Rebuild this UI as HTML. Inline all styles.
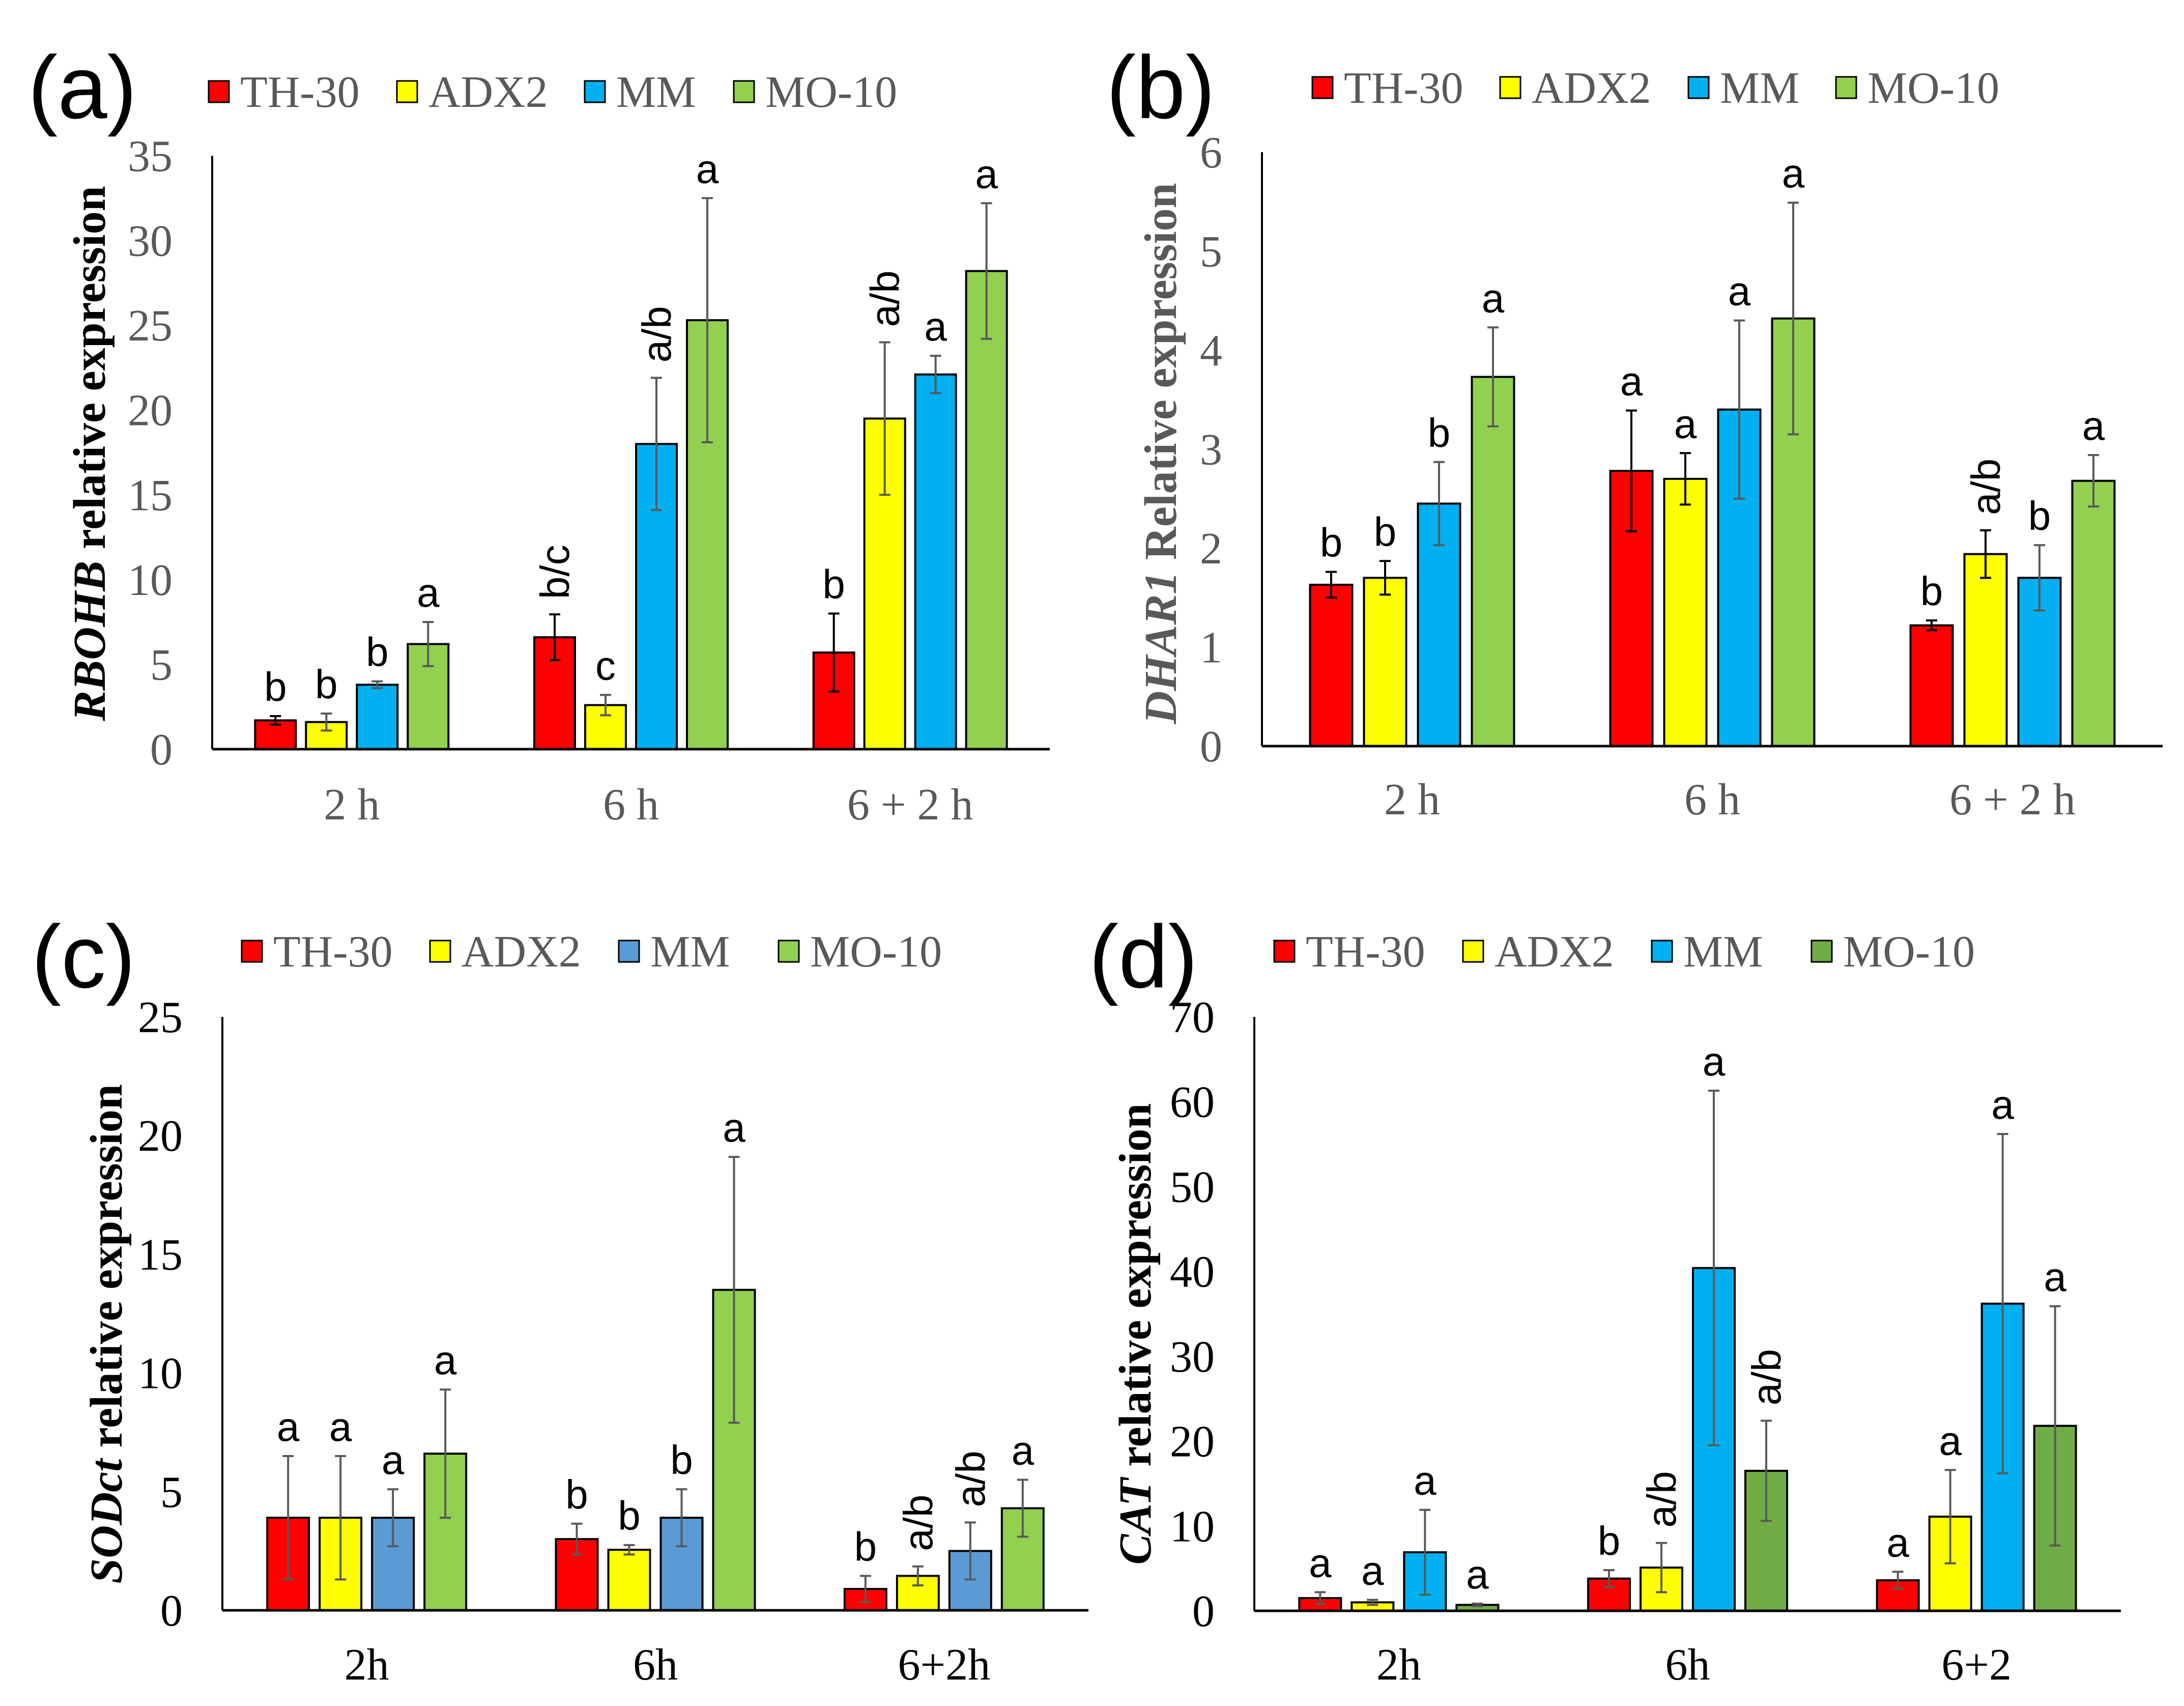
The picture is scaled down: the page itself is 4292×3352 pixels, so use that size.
<!DOCTYPE html>
<html><head><meta charset="utf-8"><style>
html,body{margin:0;padding:0;background:#fff;}
svg{display:block;}
</style></head><body>
<svg id="fig" width="4292" height="3352" viewBox="0 0 4292 3352" xmlns="http://www.w3.org/2000/svg"></svg>
<script>
// ---- data arrays ----
const aCats = ["2 h","6 h","6 + 2 h"];
const aTH = [1.7,6.6,5.7], aTHe=[0.25,1.35,2.3];
const aADX = [1.6,2.6,19.5], aADXe=[0.5,0.6,4.5];
const aMM = [3.8,18.0,22.1], aMMe=[0.2,3.9,1.1];
const aMO = [6.2,25.3,28.2], aMOe=[1.3,7.2,4.0];
const aLetters = [["b","b","b","a"],["b/c","c","a/b","a"],["b","a/b","a","a"]];
const aTicks = [0,5,10,15,20,25,30,35];

const bCats = ["2 h","6 h","6 + 2 h"];
const bTH = [1.63,2.78,1.22], bTHe=[0.13,0.61,0.05];
const bADX = [1.70,2.70,1.94], bADXe=[0.17,0.26,0.24];
const bMM = [2.45,3.40,1.70], bMMe=[0.42,0.9,0.33];
const bMO = [3.73,4.32,2.68], bMOe=[0.5,1.17,0.26];
const bLetters = [["b","b","b","a"],["a","a","a","a"],["b","a/b","b","a"]];
const bTicks = [0,1,2,3,4,5,6];

const cCats = ["2h","6h","6+2h"];
const cTH = [3.9,3.0,0.9], cTHe=[2.6,0.65,0.55];
const cADX = [3.9,2.55,1.45], cADXe=[2.6,0.2,0.4];
const cMM = [3.9,3.9,2.5], cMMe=[1.2,1.2,1.2];
const cMO = [6.6,13.5,4.3], cMOe=[2.7,5.6,1.2];
const cLetters = [["a","a","a","a"],["b","b","b","a"],["b","a/b","a/b","a"]];
const cTicks = [0,5,10,15,20,25];

const dCats = ["2h","6h","6+2"];
const dTH = [1.5,3.8,3.6], dTHe=[0.7,1.0,1.0];
const dADX = [1.0,5.1,11.1], dADXe=[0.3,2.9,5.5];
const dMM = [6.9,40.4,36.2], dMMe=[5.0,20.9,20.0];
const dMO = [0.7,16.5,21.8], dMOe=[0.15,5.9,14.1];
const dLetters = [["a","a","a","a"],["b","a/b","a","a/b"],["a","a","a","a"]];
const dTicks = [0,10,20,30,40,50,60,70];

const seriesNames = ["TH-30","ADX2","MM","MO-10"];

const NS="http://www.w3.org/2000/svg";
const svg=document.getElementById('fig');
function mk(tag,attrs,parent){const e=document.createElementNS(NS,tag);for(const k in attrs)e.setAttribute(k,attrs[k]);(parent||svg).appendChild(e);return e;}

const panels=[
 {id:'a',label:'(a)',lx:55,ly:232,cats:aCats,vals:[aTH,aADX,aMM,aMO],errs:[aTHe,aADXe,aMMe,aMOe],letters:aLetters,ticks:aTicks,
  x0:417,x1:2063,y0:1472,yTop:306,max:35,bw:80,pitch:100,colors:['#FF0000','#FFFF00','#00B0F0','#92D050'],
  legY:180,legX:[410,780,1149,1442],titleX:185,titleY:891,title:['RBOHB',' relative expression'],titleColor:'#000',tickColor:'#595959',catY:1610,catColor:'#595959',errColors:['#000','#595959','#595959','#595959']},
 {id:'b',label:'(b)',lx:2174,ly:232,cats:bCats,vals:[bTH,bADX,bMM,bMO],errs:[bTHe,bADXe,bMMe,bMOe],letters:bLetters,ticks:bTicks,
  x0:2480,x1:4250,y0:1466,yTop:299,max:6,bw:83,pitch:106,colors:['#FF0000','#FFFF00','#00B0F0','#92D050'],
  legY:172,legX:[2579,2948,3318,3608],titleX:2290,titleY:891,title:['DHAR1',' Relative expression'],titleColor:'#595959',tickColor:'#595959',catY:1600,catColor:'#595959',errColors:['#000','#000','#595959','#595959']},
 {id:'c',label:'(c)',lx:62,ly:1940,cats:cCats,vals:[cTH,cADX,cMM,cMO],errs:[cTHe,cADXe,cMMe,cMOe],letters:cLetters,ticks:cTicks,
  x0:437,x1:2139,y0:3164,yTop:1998,max:25,bw:82,pitch:103,colors:['#FF0000','#FFFF00','#5B9BD5','#92D050'],
  legY:1869,legX:[475,845,1216,1530],titleX:218,titleY:2621,title:['SODct','  relative expression'],titleColor:'#000',tickColor:'#000',catY:3300,catColor:'#000',errColors:['#595959','#595959','#595959','#595959']},
 {id:'d',label:'(d)',lx:2140,ly:1940,cats:dCats,vals:[dTH,dADX,dMM,dMO],errs:[dTHe,dADXe,dMMe,dMOe],letters:dLetters,ticks:dTicks,
  x0:2465,x1:4168,y0:3165,yTop:1998,max:70,bw:82,pitch:103,colors:['#FF0000','#FFFF00','#00B0F0','#70AD47'],
  legY:1869,legX:[2504,2875,3246,3560],titleX:2240,titleY:2621,title:['CAT',' relative expression'],titleColor:'#000',tickColor:'#000',catY:3300,catColor:'#000',errColors:['#595959','#595959','#595959','#595959']}
];

panels.forEach(p=>{
  const g=mk('g',{});
  
  
  const yS=v=>p.y0-(v/p.max)*(p.y0-p.yTop);
  const gw=(p.x1-p.x0)/p.cats.length;
  const xC=i=>p.x0+gw*(i+0.5);
  // panel label
  const lb=mk('text',{x:p.lx,y:p.ly,'font-family':'Liberation Sans, sans-serif','font-size':175,fill:'#000'},g);
  lb.textContent=p.label;
  
  
  // legend
  seriesNames.forEach((n,k)=>{
    const le=mk('g',{},g);
    
    
    mk('rect',{x:p.legX[k],y:p.legY-21,width:40,height:42,fill:p.colors[k],stroke:'#000','stroke-width':3},le);
    const t=mk('text',{x:p.legX[k]+62,y:p.legY+30,'font-family':'Liberation Serif, serif','font-size':88,fill:'#595959'},le);
    t.textContent=n;
  });
  // y ticks
  p.ticks.forEach(v=>{
    const t=mk('text',{x:p.x0-78,y:yS(v)+30,'text-anchor':'end','font-family':'Liberation Serif, serif','font-size':88,fill:p.tickColor},g);
    t.textContent=v;
    
    
  });
  // y title
  const tt=mk('text',{x:p.titleX,y:p.titleY,transform:`rotate(-90 ${p.titleX} ${p.titleY})`,'text-anchor':'middle','dominant-baseline':'middle','font-family':'Liberation Serif, serif','font-size':90,'font-weight':'bold',fill:p.titleColor},g);
  const s1=mk('tspan',{'font-style':'italic'},tt);s1.textContent=p.title[0];
  const s2=mk('tspan',{'xml:space':'preserve'},tt);s2.textContent=p.title[1];
  
  
  // bars
  p.cats.forEach((c,i)=>{
    const start=xC(i)-(3*p.pitch+p.bw)/2;
    for(let k=0;k<4;k++){
      const v=p.vals[k][i], e=p.errs[k][i];
      const bx=start+k*p.pitch, cx=bx+p.bw/2;
      const r=mk('rect',{x:bx,y:yS(v),width:p.bw,height:p.y0-yS(v),fill:p.colors[k],stroke:'#000','stroke-width':4},g);
      
      
      const ec=p.errColors[k];
      const eg=mk('g',{stroke:ec,'stroke-width':4},g);
      
      
      mk('line',{x1:cx,x2:cx,y1:yS(v+e),y2:yS(v-e)},eg);
      mk('line',{x1:cx-11,x2:cx+11,y1:yS(v+e),y2:yS(v+e)},eg);
      mk('line',{x1:cx-11,x2:cx+11,y1:yS(v-e),y2:yS(v-e)},eg);
      const L=p.letters[i][k];
      const topY=yS(v+e)-30;
      let lt;
      if(L.length>1){
        lt=mk('text',{x:cx+28,y:topY,transform:`rotate(-90 ${cx+28} ${topY})`,'font-family':'Liberation Sans, sans-serif','font-size':80,fill:'#000'},g);
      } else {
        lt=mk('text',{x:cx,y:topY,'text-anchor':'middle','font-family':'Liberation Sans, sans-serif','font-size':80,fill:'#000'},g);
      }
      lt.textContent=L;
      
      
    }
    const ct=mk('text',{x:xC(i),y:p.catY,'text-anchor':'middle','font-family':'Liberation Serif, serif','font-size':88,fill:p.catColor},g);
    ct.textContent=c;
    
    
  });
  // axes
  const ax=mk('line',{x1:p.x0,x2:p.x0,y1:p.yTop,y2:p.y0,stroke:'#000','stroke-width':4},g);
  
  
  const axx=mk('line',{x1:p.x0,x2:p.x1,y1:p.y0,y2:p.y0,stroke:'#000','stroke-width':5},g);
  
  
});
</script>
</body></html>
